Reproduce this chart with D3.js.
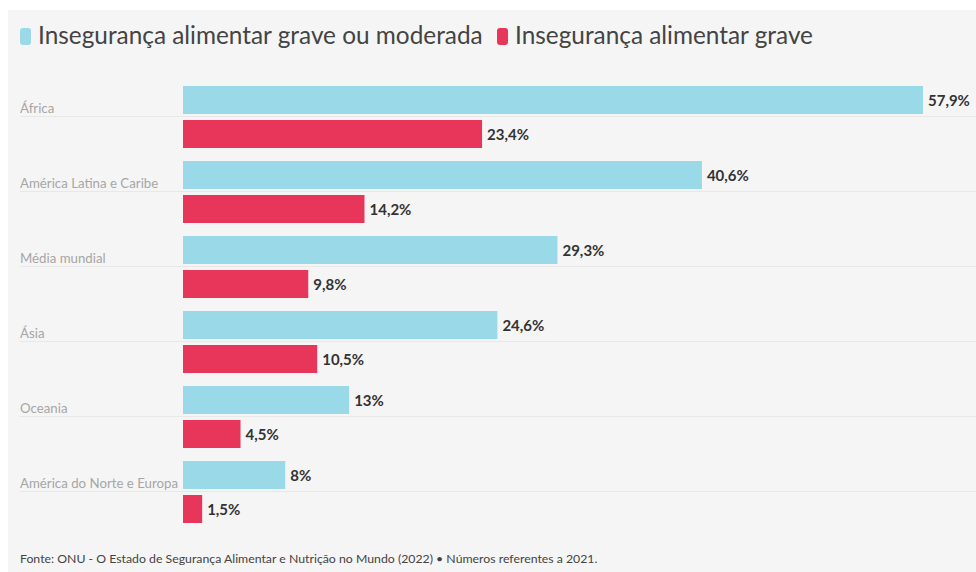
<!DOCTYPE html>
<html>
<head>
<meta charset="utf-8">
<script src="https://cdn.jsdelivr.net/npm/d3@7"></script>
<style>
  html, body { margin: 0; padding: 0; background: #ffffff; }
  svg { display: block; }
  text { font-family: "Source Sans Pro", Lato, "Noto Sans", sans-serif; }
</style>
</head>
<body>
<svg id="chart" width="976" height="572"></svg>
<script>
const categories = ["África", "América Latina e Caribe", "Média mundial", "Ásia", "Oceania", "América do Norte e Europa"];
const moderadaValues = [57.9, 40.6, 29.3, 24.6, 13, 8];
const graveValues = [23.4, 14.2, 9.8, 10.5, 4.5, 1.5];
const seriesNames = ["Insegurança alimentar grave ou moderada", "Insegurança alimentar grave"];
const seriesColors = ["#99d9e8", "#e8365b"];
const sourceText = "Fonte: ONU - O Estado de Segurança Alimentar e Nutrição no Mundo (2022) • Números referentes a 2021.";

const W = 976, H = 572;
const svg = d3.select("#chart");

svg.append("rect").attr("x", 8).attr("y", 10).attr("width", W - 8).attr("height", H - 10).attr("fill", "#f5f5f5");

function fitWidth(sel, target) {
  const node = sel.node();
  const fs = parseFloat(sel.attr("font-size"));
  const w = node.getComputedTextLength();
  if (w > 0) sel.attr("font-size", (fs * target / w).toFixed(2));
  return parseFloat(sel.attr("font-size"));
}

// Legend
const legendItems = [
  { x: 20, textX: 38, width: 445 },
  { x: 497, textX: 515, width: 298 }
];
seriesNames.forEach((name, i) => {
  svg.append("rect")
    .attr("x", legendItems[i].x).attr("y", 28)
    .attr("width", 11).attr("height", 17).attr("rx", 3)
    .attr("fill", seriesColors[i]);
  const t = svg.append("text")
    .attr("x", legendItems[i].textX).attr("y", 44)
    .attr("font-size", 24).attr("fill", "#444")
    .text(name);
  fitWidth(t, legendItems[i].width);
});

const x = d3.scaleLinear().domain([0, d3.max(moderadaValues)]).range([183, 923]);
const y = d3.scaleBand().domain(categories).range([86, 86 + 75 * categories.length]).paddingInner(0).paddingOuter(0);
const barH = 28, redOffset = 34;

const fmt = v => String(v).replace(".", ",") + "%";

// measure label font size from the longest label
const probe = svg.append("text").attr("font-size", 14).text("América do Norte e Europa");
const labelFs = fitWidth(probe, 158);
probe.remove();

const g = svg.append("g");
categories.forEach((c, i) => {
  const y0 = y(c);
  g.append("line")
    .attr("x1", 20).attr("x2", W)
    .attr("y1", y0 + 30.5).attr("y2", y0 + 30.5)
    .attr("stroke", "#e8e8e8").attr("stroke-width", 1);
  g.append("text")
    .attr("x", 20).attr("y", y0 + 27)
    .attr("font-size", labelFs).attr("fill", "#a6a6a6")
    .text(c);
});

const vals = [moderadaValues, graveValues];
vals.forEach((arr, s) => {
  categories.forEach((c, i) => {
    const y0 = y(c) + (s === 0 ? 0 : redOffset);
    g.append("rect")
      .attr("x", x(0)).attr("y", y0)
      .attr("width", x(arr[i]) - x(0)).attr("height", barH)
      .attr("fill", seriesColors[s]);
    g.append("text")
      .attr("x", x(arr[i]) + 5).attr("y", y0 + barH / 2 + 5.5)
      .attr("font-size", 15).attr("font-weight", "bold").attr("fill", "#333")
      .text(fmt(arr[i]));
  });
});

const src = svg.append("text")
  .attr("x", 20).attr("y", 563)
  .attr("font-size", 13).attr("fill", "#444")
  .text(sourceText);
fitWidth(src, 578);
</script>
</body>
</html>
